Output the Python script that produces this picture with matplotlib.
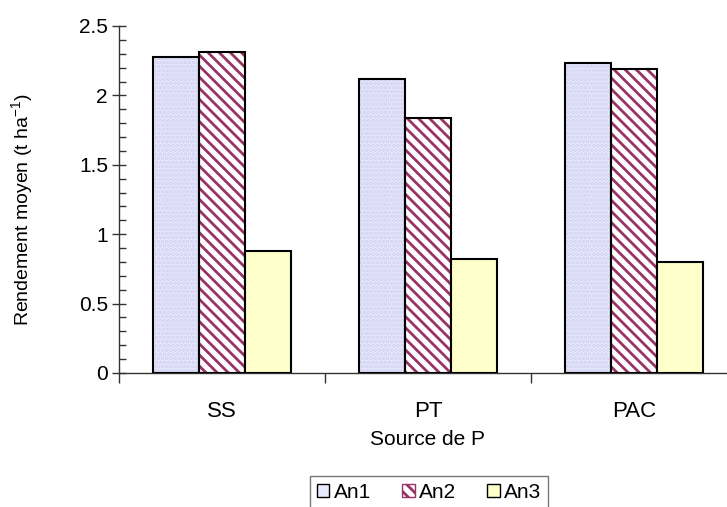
import matplotlib
matplotlib.use("Agg")
import matplotlib.pyplot as plt
import numpy as np
from matplotlib.patches import Patch
from matplotlib.ticker import MultipleLocator, FixedLocator, FixedFormatter

plt.rcParams['font.family'] = ['Liberation Sans', 'DejaVu Sans']
plt.rcParams['hatch.linewidth'] = 2.0

categories = ["SS", "PT", "PAC"]
series_names = ["An1", "An2", "An3"]
an1 = [2.28, 2.12, 2.23]
an2 = [2.31, 1.84, 2.19]
an3 = [0.88, 0.82, 0.80]

fig = plt.figure(figsize=(7.27, 5.07), dpi=100)
ax = fig.add_axes([119/727, (507-373)/507, 618/727, (373-26)/507])

x = np.arange(len(categories))
w = 0.223
c1 = "#EAEAFF"
c2 = "#993366"
c3 = "#FFFFCC"

# An1: light lavender with faint dots
ax.bar(x - w, an1, w, color=c1, edgecolor="#D0D0F0", hatch="....", linewidth=0, zorder=2)
ax.bar(x - w, an1, w, fill=False, edgecolor="black", linewidth=1.5, zorder=3)
# An2: maroon diagonal hatch on white
ax.bar(x, an2, w, color="white", edgecolor=c2, hatch="\\\\\\", linewidth=0, zorder=2)
ax.bar(x, an2, w, fill=False, edgecolor="black", linewidth=1.5, zorder=3)
# An3: pale yellow
ax.bar(x + w, an3, w, color=c3, edgecolor="black", linewidth=1.5, zorder=3)

ax.set_xlim(-0.5, 2.5)
ax.set_ylim(0, 2.5)
ax.spines['top'].set_visible(False)
ax.spines['right'].set_visible(False)
for s in ['left', 'bottom']:
    ax.spines[s].set_linewidth(1.0)
    ax.spines[s].set_color('#333333')

ax.set_yticks([0, 0.5, 1, 1.5, 2, 2.5])
ax.set_yticklabels(["0", "0.5", "1", "1.5", "2", "2.5"])
ax.yaxis.set_minor_locator(MultipleLocator(0.1))
ax.tick_params(axis='y', which='major', direction='inout', length=10, width=1, labelsize=15, pad=3, color='#333333')
ax.tick_params(axis='y', which='minor', direction='in', length=5, width=1, color='#333333')

ax.xaxis.set_major_locator(FixedLocator([-0.5, 0.5, 1.5, 2.5]))
ax.set_xticklabels([])
ax.xaxis.set_minor_locator(FixedLocator(x))
ax.xaxis.set_minor_formatter(FixedFormatter(categories))
ax.tick_params(axis='x', which='major', direction='out', length=7, width=1, color='#333333')
ax.tick_params(axis='x', which='minor', length=0, labelsize=16, pad=20)

ax.set_xlabel("Source de P", fontsize=15, labelpad=6)
ax.set_ylabel("Rendement moyen (t ha$^{\\mathregular{-1}}$)", fontsize=14)
ax.yaxis.set_label_coords((36-119)/618, 0.47)

handles = [
    Patch(facecolor=c1, edgecolor="black", linewidth=1),
    Patch(facecolor="white", edgecolor=c2, hatch="\\\\\\", linewidth=1),
    Patch(facecolor=c3, edgecolor="black", linewidth=1),
]
leg = fig.legend(handles, series_names, loc='upper center', bbox_to_anchor=(0.59, 0.062),
                 ncol=3, fontsize=15, frameon=True, fancybox=False, edgecolor='#555555',
                 handlelength=0.6, handleheight=0.6, handletextpad=0.2, columnspacing=1.5,
                 borderpad=0.35, borderaxespad=0)
leg.get_frame().set_linewidth(1.0)

fig.savefig("out.png", dpi=100)
